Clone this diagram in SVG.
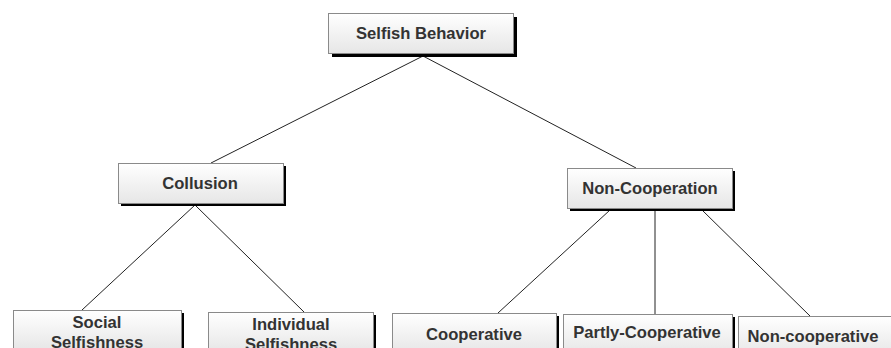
<svg xmlns="http://www.w3.org/2000/svg" width="891" height="348" viewBox="0 0 891 348">
<defs>
<linearGradient id="g" x1="0" y1="0" x2="0" y2="1">
<stop offset="0" stop-color="#ffffff"/>
<stop offset="1" stop-color="#e6e6e6"/>
</linearGradient>
<style>
.box{fill:url(#g);stroke:#8a8a8a;stroke-width:1}
.sh{fill:#000}
.t{font-family:"Liberation Sans",Arial,sans-serif;font-weight:bold;font-size:16.6px;fill:#333;text-anchor:middle}
.c line{stroke:#222;stroke-width:1}
</style>
</defs>
<rect width="891" height="348" fill="#fff"/>
<g class="c" id="connectors">
<line x1="423" y1="56" x2="211" y2="163"/>
<line x1="423" y1="56" x2="636" y2="168"/>
<line x1="195" y1="205" x2="82" y2="310"/>
<line x1="195" y1="205" x2="304" y2="312"/>
<line x1="610" y1="210" x2="498" y2="313"/>
<line x1="655" y1="210" x2="655" y2="314"/>
<line x1="702" y1="210" x2="810" y2="316"/>
</g>
<g id="selfish">
<rect class="sh" x="332" y="17" width="185" height="40"/>
<rect class="box" x="328.5" y="13.5" width="185" height="40"/>
<text class="t" x="421" y="39">Selfish Behavior</text>
</g>
<g id="collusion">
<rect class="sh" x="121" y="166" width="165" height="40"/>
<rect class="box" x="118.5" y="163.5" width="165" height="40"/>
<text class="t" x="200" y="189">Collusion</text>
</g>
<g id="noncooperation">
<rect class="sh" x="570" y="171" width="165" height="40"/>
<rect class="box" x="567.5" y="168.5" width="165" height="40"/>
<text class="t" x="650" y="194">Non-Cooperation</text>
</g>
<g id="social">
<rect class="sh" x="16" y="313" width="168" height="40"/>
<rect class="box" x="13.5" y="310.5" width="168" height="40"/>
<text class="t" x="97" y="328">Social</text>
<text class="t" x="97" y="348">Selfishness</text>
</g>
<g id="individual">
<rect class="sh" x="211" y="315" width="165" height="40"/>
<rect class="box" x="208.5" y="312.5" width="165" height="40"/>
<text class="t" x="291" y="330">Individual</text>
<text class="t" x="291" y="350">Selfishness</text>
</g>
<g id="cooperative">
<rect class="sh" x="395" y="316" width="164" height="40"/>
<rect class="box" x="392.5" y="313.5" width="164" height="40"/>
<text class="t" x="474" y="340">Cooperative</text>
</g>
<g id="partly">
<rect class="sh" x="566" y="317" width="169" height="40"/>
<rect class="box" x="563.5" y="314.5" width="169" height="40"/>
<text class="t" x="647" y="338">Partly-Cooperative</text>
</g>
<g id="noncoop">
<rect class="sh" x="741" y="319" width="160" height="40"/>
<rect class="box" x="738.5" y="316.5" width="160" height="40"/>
<text class="t" x="813" y="342">Non-cooperative</text>
</g>
</svg>
